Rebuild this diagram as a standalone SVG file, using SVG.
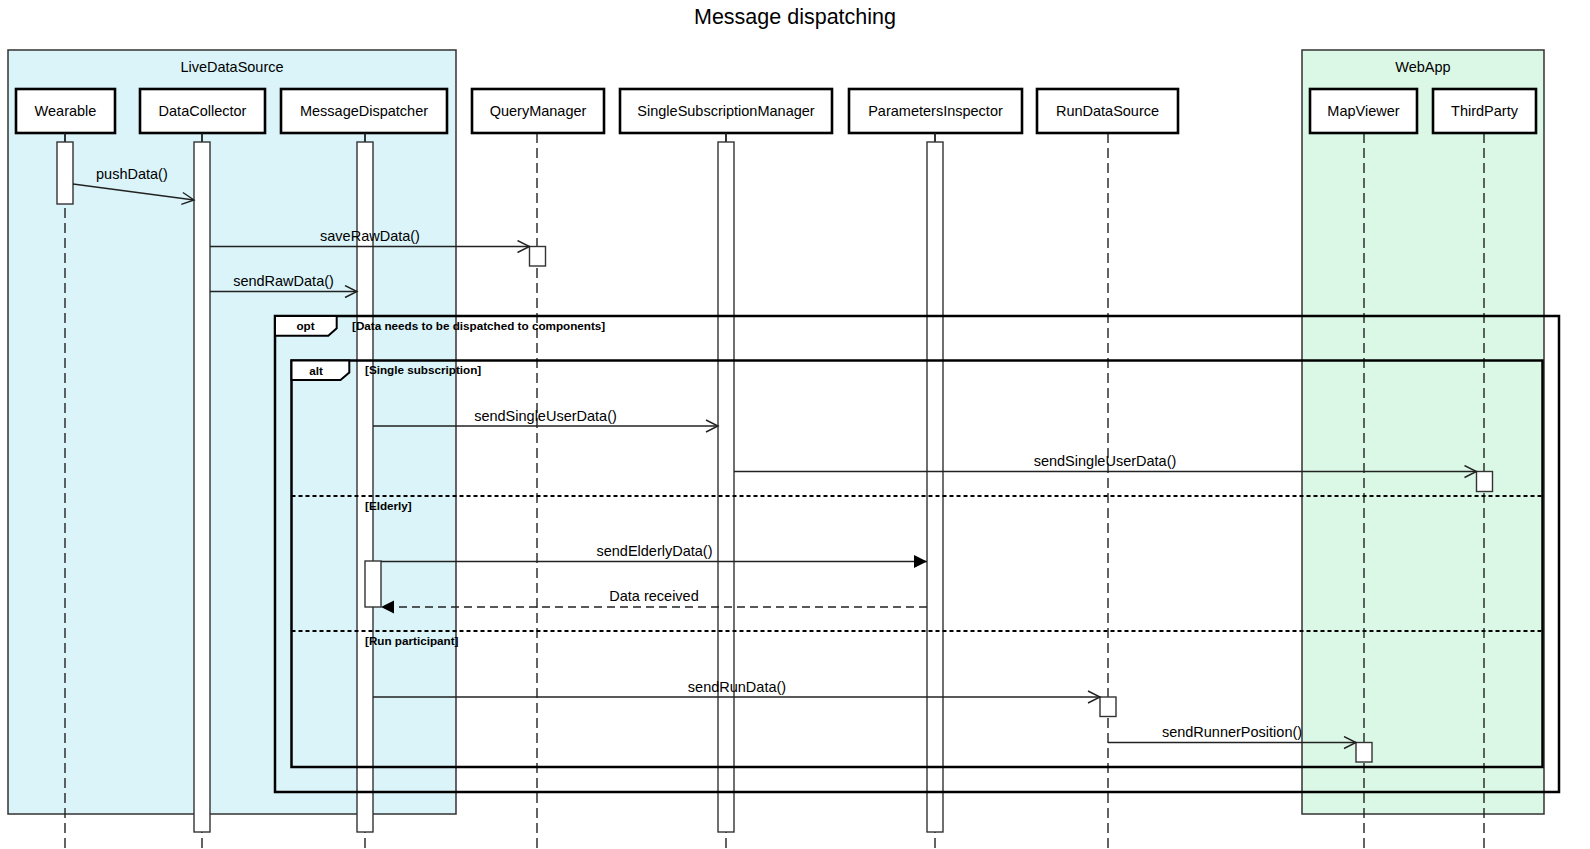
<svg xmlns="http://www.w3.org/2000/svg" width="1590" height="849" viewBox="0 0 1590 849">
<style>
text{font-family:"Liberation Sans",Arial,sans-serif;fill:#000}
.t{font-size:14.5px}
.title{font-size:21.5px}
.g{font-size:11.7px;font-weight:bold}
.pbox{fill:#fff;stroke:#000;stroke-width:2.6}
.life{stroke:#222;stroke-width:1.4;stroke-dasharray:10,5;fill:none}
.stub{stroke:#222;stroke-width:1.4}
.act{fill:#fff;stroke:#333;stroke-width:1.4}
.frame{fill:none;stroke:#000;stroke-width:2.5}
.tab{fill:#fff;stroke:#000;stroke-width:2}
.div{stroke:#000;stroke-width:2;stroke-dasharray:4,3}
.msg{stroke:#222;stroke-width:1.4;fill:none}
.ret{stroke:#222;stroke-width:1.4;fill:none;stroke-dasharray:8,5}
</style>
<defs>
<marker id="open" markerUnits="userSpaceOnUse" markerWidth="16" markerHeight="16" refX="13" refY="7" orient="auto">
<path d="M1,1 L13,7 L1,13" fill="none" stroke="#222" stroke-width="1.4"/>
</marker>
<marker id="filled" markerUnits="userSpaceOnUse" markerWidth="16" markerHeight="16" refX="13" refY="7" orient="auto">
<path d="M0,0.5 L13,7 L0,13.5 Z" fill="#000" stroke="none"/>
</marker>
</defs>
<rect width="1590" height="849" fill="#fff"/>
<text class="title" x="795" y="24" text-anchor="middle">Message dispatching</text>

<g id="LiveDataSource">
<rect x="8" y="50" width="448" height="764" fill="#daf4f9" stroke="#333" stroke-width="1.5"/>
<text class="t" x="232" y="72" text-anchor="middle">LiveDataSource</text>
</g>
<g id="WebApp">
<rect x="1302" y="50" width="242" height="764" fill="#dbf8e7" stroke="#333" stroke-width="1.5"/>
<text class="t" x="1423" y="72" text-anchor="middle">WebApp</text>
</g>

<g id="lifelines">
<line class="life" x1="65" y1="133" x2="65" y2="849"/>
<line class="life" x1="202" y1="133" x2="202" y2="849"/>
<line class="life" x1="365" y1="133" x2="365" y2="849"/>
<line class="life" x1="537" y1="133" x2="537" y2="849"/>
<line class="life" x1="726" y1="133" x2="726" y2="849"/>
<line class="life" x1="935" y1="133" x2="935" y2="849"/>
<line class="life" x1="1108" y1="133" x2="1108" y2="849"/>
<line class="life" x1="1364" y1="133" x2="1364" y2="849"/>
<line class="life" x1="1484" y1="133" x2="1484" y2="849"/>
</g>

<g id="Wearable">
<rect class="pbox" x="16" y="89" width="99" height="44"/>
<text class="t" x="65.5" y="116" text-anchor="middle">Wearable</text>
<line class="stub" x1="65" y1="133" x2="65" y2="142"/>
<rect class="act" x="57" y="142" width="16" height="62"/>
</g>
<g id="DataCollector">
<rect class="pbox" x="140" y="89" width="125" height="44"/>
<text class="t" x="202.5" y="116" text-anchor="middle">DataCollector</text>
<line class="stub" x1="202" y1="133" x2="202" y2="142"/>
<rect class="act" x="194" y="142" width="16" height="690"/>
</g>
<g id="MessageDispatcher">
<rect class="pbox" x="281" y="89" width="166" height="44"/>
<text class="t" x="364" y="116" text-anchor="middle">MessageDispatcher</text>
<line class="stub" x1="365" y1="133" x2="365" y2="142"/>
<rect class="act" x="357" y="142" width="16" height="690"/>
<rect class="act" x="365" y="561" width="16" height="46"/>
</g>
<g id="QueryManager">
<rect class="pbox" x="472" y="89" width="132" height="44"/>
<text class="t" x="538" y="116" text-anchor="middle">QueryManager</text>
<rect class="act" x="529.5" y="246.5" width="16" height="19.5"/>
</g>
<g id="SingleSubscriptionManager">
<rect class="pbox" x="620" y="89" width="212" height="44"/>
<text class="t" x="726" y="116" text-anchor="middle">SingleSubscriptionManager</text>
<line class="stub" x1="726" y1="133" x2="726" y2="142"/>
<rect class="act" x="718" y="142" width="16" height="690"/>
</g>
<g id="ParametersInspector">
<rect class="pbox" x="849" y="89" width="173" height="44"/>
<text class="t" x="935.5" y="116" text-anchor="middle">ParametersInspector</text>
<line class="stub" x1="935" y1="133" x2="935" y2="142"/>
<rect class="act" x="927" y="142" width="16" height="690"/>
</g>
<g id="RunDataSource">
<rect class="pbox" x="1037" y="89" width="141" height="44"/>
<text class="t" x="1107.5" y="116" text-anchor="middle">RunDataSource</text>
<rect class="act" x="1100" y="697" width="16" height="19.5"/>
</g>
<g id="MapViewer">
<rect class="pbox" x="1310" y="89" width="107" height="44"/>
<text class="t" x="1363.5" y="116" text-anchor="middle">MapViewer</text>
<rect class="act" x="1356" y="742.5" width="16" height="19.5"/>
</g>
<g id="ThirdParty">
<rect class="pbox" x="1433" y="89" width="103" height="44"/>
<text class="t" x="1484.5" y="116" text-anchor="middle">ThirdParty</text>
<rect class="act" x="1476.5" y="471.5" width="16" height="20"/>
</g>

<g id="connectors">
<line class="msg" x1="73" y1="184" x2="194" y2="200" marker-end="url(#open)"/>
<text class="t" x="96" y="179">pushData()</text>
<line class="msg" x1="210" y1="246.5" x2="529.5" y2="246.5" marker-end="url(#open)"/>
<text class="t" x="370" y="240.5" text-anchor="middle">saveRawData()</text>
<line class="msg" x1="210" y1="291.5" x2="357" y2="291.5" marker-end="url(#open)"/>
<text class="t" x="283.5" y="285.5" text-anchor="middle">sendRawData()</text>
<line class="msg" x1="373" y1="426" x2="718" y2="426" marker-end="url(#open)"/>
<text class="t" x="545.5" y="420.5" text-anchor="middle">sendSingleUserData()</text>
<line class="msg" x1="734" y1="471.5" x2="1476.5" y2="471.5" marker-end="url(#open)"/>
<text class="t" x="1105" y="466" text-anchor="middle">sendSingleUserData()</text>
<line class="msg" x1="381" y1="561.5" x2="927" y2="561.5" marker-end="url(#filled)"/>
<text class="t" x="654.5" y="556" text-anchor="middle">sendElderlyData()</text>
<line class="ret" x1="927" y1="607" x2="381" y2="607" marker-end="url(#filled)"/>
<text class="t" x="654" y="600.5" text-anchor="middle">Data received</text>
<line class="msg" x1="373" y1="697" x2="1100" y2="697" marker-end="url(#open)"/>
<text class="t" x="737" y="691.5" text-anchor="middle">sendRunData()</text>
<line class="msg" x1="1108" y1="742.5" x2="1356" y2="742.5" marker-end="url(#open)"/>
<text class="t" x="1232" y="737" text-anchor="middle">sendRunnerPosition()</text>
</g>

<g id="opt">
<rect class="frame" x="275" y="316" width="1284" height="476"/>
<path class="tab" d="M275,316 L336.7,316 L336.7,328.3 L328.3,335.7 L275,335.7 Z"/>
<text class="g" x="305.5" y="330" text-anchor="middle">opt</text>
<text class="g" x="352" y="329.5">[Data needs to be dispatched to components]</text>
</g>
<g id="alt">
<rect class="frame" x="291.5" y="360.5" width="1251" height="406.5"/>
<path class="tab" d="M291.5,360.5 L349.3,360.5 L349.3,372.5 L340.5,380 L291.5,380 Z"/>
<text class="g" x="316" y="374.5" text-anchor="middle">alt</text>
<text class="g" x="365" y="374">[Single subscription]</text>
<line class="div" x1="291.5" y1="496" x2="1542.5" y2="496"/>
<text class="g" x="365" y="509.5">[Elderly]</text>
<line class="div" x1="291.5" y1="631" x2="1542.5" y2="631"/>
<text class="g" x="365" y="644.5">[Run participant]</text>
</g>
</svg>
